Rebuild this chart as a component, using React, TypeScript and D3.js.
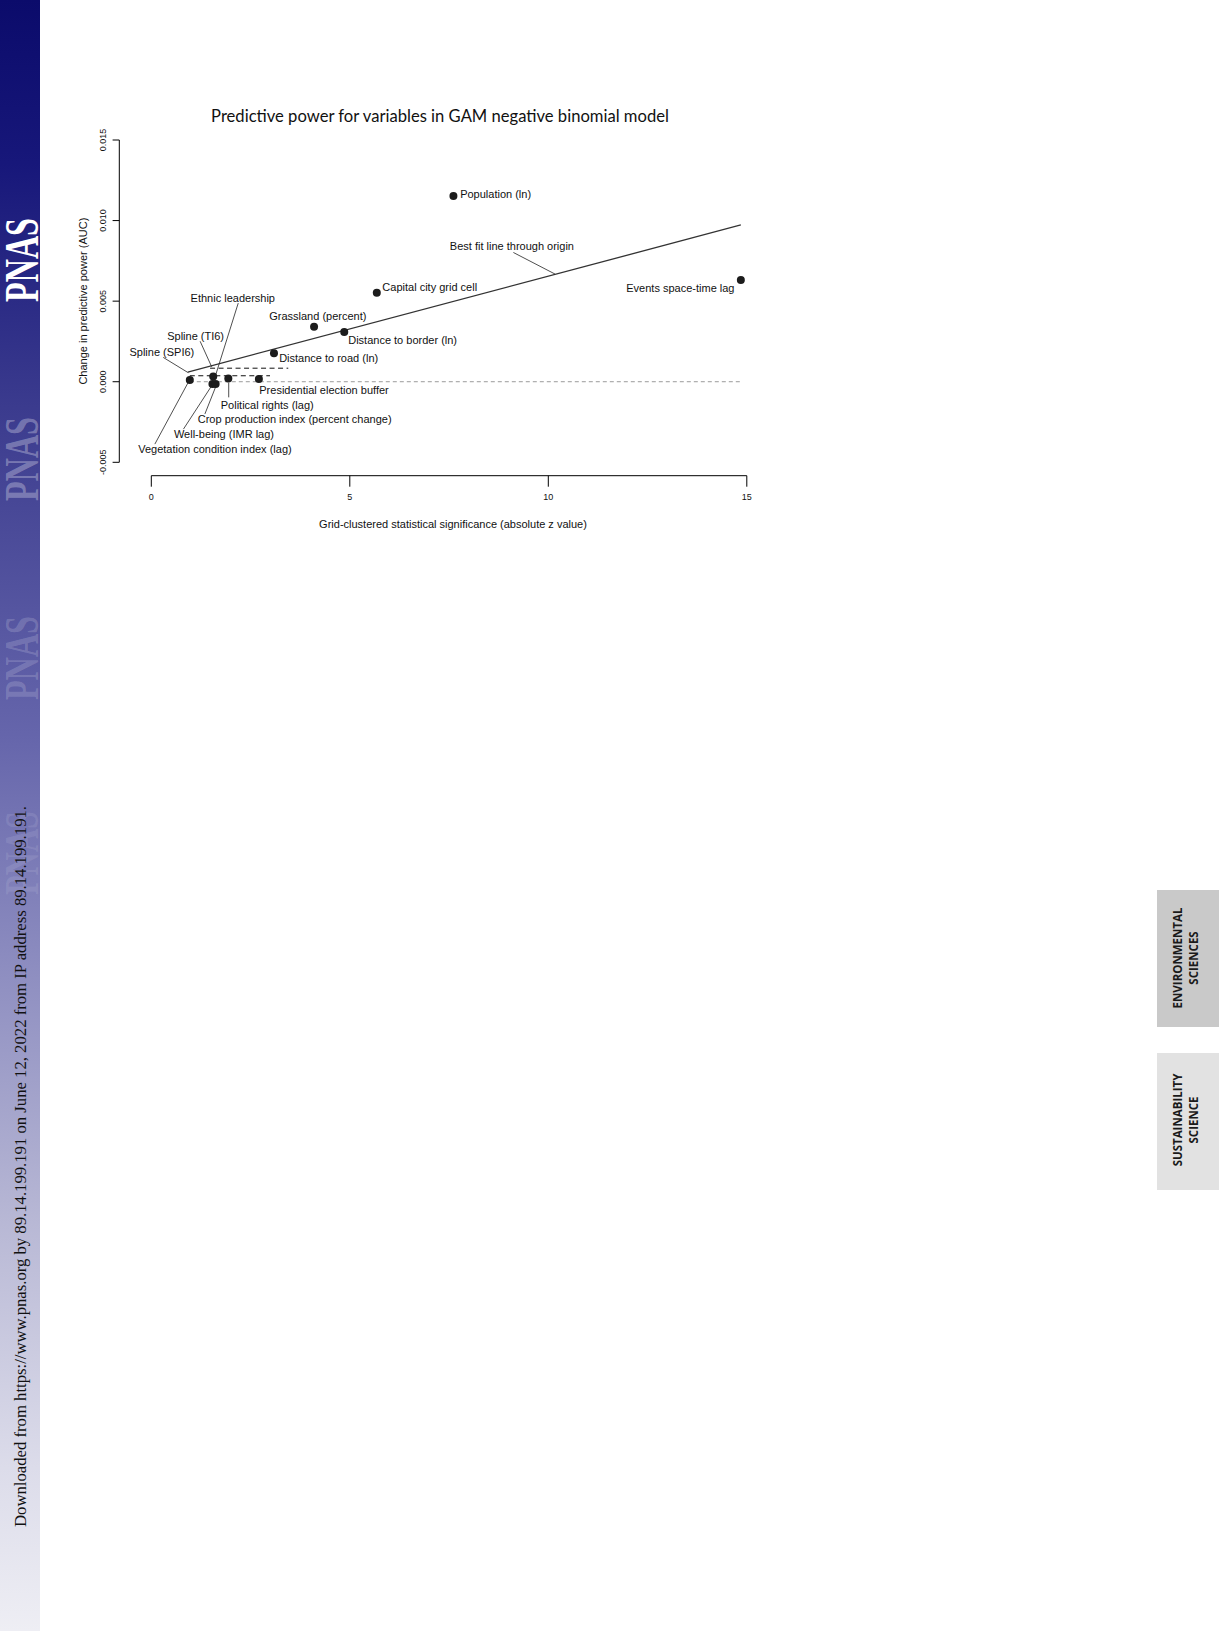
import { scaleLinear } from "d3";

// Points: grid-clustered |z| vs change in AUC
const pointNames = [
  "Population (ln)",
  "Capital city grid cell",
  "Grassland (percent)",
  "Distance to border (ln)",
  "Distance to road (ln)",
  "Events space-time lag",
  "Vegetation condition index (lag)",
  "Ethnic leadership",
  "Well-being (IMR lag)",
  "Crop production index (percent change)",
  "Political rights (lag)",
  "Presidential election buffer",
];
const pointZ = [7.61, 5.68, 4.1, 4.86, 3.09, 14.85, 0.97, 1.56, 1.54, 1.62, 1.94, 2.71];
const pointAuc = [0.01152, 0.00552, 0.00341, 0.00308, 0.00176, 0.00631, 0.00011, 0.00033, -0.00014, -0.00014, 0.0002, 0.00017];

// Spline terms shown as dashed intervals
const splineFromZ = [0.97, 1.48];
const splineToZ = [2.99, 3.45];
const splineAuc = [0.00037, 0.00084];

// Best fit line through origin
const bestFitSlope = 0.000655;
const bestFitZ = [0.92, 14.85];

// Annotations (data units, like R's text())
const labelTexts = [
  "Population (ln)",
  "Capital city grid cell",
  "Grassland (percent)",
  "Distance to border (ln)",
  "Distance to road (ln)",
  "Presidential election buffer",
  "Events space-time lag",
  "Best fit line through origin",
  "Ethnic leadership",
  "Spline (TI6)",
  "Spline (SPI6)",
  "Political rights (lag)",
  "Crop production index (percent change)",
  "Well-being (IMR lag)",
  "Vegetation condition index (lag)",
];
const labelZ = [7.78, 5.82, 2.97, 4.96, 3.22, 2.72, 14.69, 7.52, 0.99, 0.4, -0.55, 1.75, 1.17, 0.57, -0.33];
const labelAuc = [0.01165, 0.00585, 0.0041, 0.00259, 0.00145, -0.00052, 0.00582, 0.00844, 0.00517, 0.00285, 0.00182, -0.00143, -0.00232, -0.00325, -0.00418];
const labelEnd = ["Events space-time lag"];

// leader segments [z1, auc1, z2, auc2]
const leaders = [
  [9.12, 0.00802, 10.17, 0.00668],
  [2.19, 0.00488, 1.6, 0.00025],
  [1.23, 0.00251, 1.52, 0.00093],
  [0.3, 0.00151, 0.93, 0.00056],
  [1.95, -0.00006, 1.95, -0.00097],
  [1.35, -0.002, 1.65, -0.00014],
  [0.81, -0.00294, 1.55, -0.00014],
  [0.09, -0.00387, 0.93, -0.00004],
];

const xTicks = [0, 5, 10, 15];
const yTicks = [-0.005, 0, 0.005, 0.01, 0.015];

const W = 1219;
const H = 1631;
const sans = "'Liberation Sans', Arial, sans-serif";
const serif = "'Liberation Serif', 'Times New Roman', serif";

export default function App() {
  const x = scaleLinear().domain([0, 15]).range([151.3, 746.8]);
  const y = scaleLinear().domain([-0.005, 0.015]).range([462.3, 140]);
  const yAxisX = 119.3;
  const xAxisY = 475.7;

  const pnasY = [260, 459, 658, 853];
  const pnasOpacity = [1, 0.3, 0.18, 0.1];

  return (
    <div style={{ position: "absolute", left: 0, top: 0 }}>
      <svg width={W} height={H} viewBox={`0 0 ${W} ${H}`} style={{ display: "block", background: "#fff" }}>
        <defs>
          <linearGradient id="band" x1="0" y1="0" x2="0" y2="1">
            <stop offset="0" stopColor="#0b0b6b" />
            <stop offset="0.1" stopColor="#17177a" />
            <stop offset="0.25" stopColor="#3b3b8e" />
            <stop offset="0.45" stopColor="#6565ab" />
            <stop offset="0.6" stopColor="#8f8fc1" />
            <stop offset="0.75" stopColor="#b8b8d5" />
            <stop offset="0.9" stopColor="#dcdcea" />
            <stop offset="1" stopColor="#eeeef4" />
          </linearGradient>
        </defs>

        {/* left journal band */}
        <rect x={0} y={0} width={40} height={H} fill="url(#band)" />
        {pnasY.map((cy, i) => (
          <text
            key={`pnas-${i}`}
            transform={`translate(37.5, ${cy}) rotate(-90) scale(0.67, 1)`}
            textAnchor="middle"
            fontFamily={serif}
            fontWeight={700}
            fontSize={48}
            fill="#fff"
            fillOpacity={pnasOpacity[i]}
          >
            PNAS
          </text>
        ))}
        <text
          transform={`translate(26, 1527) rotate(-90)`}
          textAnchor="start"
          fontFamily={serif}
          fontSize={16}
          fill="#111"
          textLength={721}
          lengthAdjust="spacingAndGlyphs"
        >
          Downloaded from https://www.pnas.org by 89.14.199.191 on June 12, 2022 from IP address 89.14.199.191.
        </text>

        {/* right section tabs */}
        <rect x={1157} y={890} width={62} height={137} fill="#c9c9c9" />
        <g fontFamily="'Open Sans', sans-serif" fontWeight={700} fontSize={11.5} fill="#1a1a1a" textAnchor="middle">
          <text transform="translate(1182, 958) rotate(-90)">ENVIRONMENTAL</text>
          <text transform="translate(1198, 958) rotate(-90)">SCIENCES</text>
        </g>
        <rect x={1157} y={1053} width={62} height={137} fill="#e2e2e2" />
        <g fontFamily="'Open Sans', sans-serif" fontWeight={700} fontSize={11.5} fill="#1a1a1a" textAnchor="middle">
          <text transform="translate(1182, 1120) rotate(-90)">SUSTAINABILITY</text>
          <text transform="translate(1198, 1120) rotate(-90)">SCIENCE</text>
        </g>

        {/* title */}
        <text x={440} y={122} textAnchor="middle" fontFamily="Lato, 'Open Sans', sans-serif" fontSize={16.6} fill="#111">
          Predictive power for variables in GAM negative binomial model
        </text>

        {/* y axis */}
        <line x1={yAxisX} x2={yAxisX} y1={y(0.015)} y2={y(-0.005)} stroke="#000" strokeWidth={1} />
        {yTicks.map((t) => (
          <g key={`yt-${t}`}>
            <line x1={yAxisX - 6.7} x2={yAxisX} y1={y(t)} y2={y(t)} stroke="#000" strokeWidth={1} />
            <text
              transform={`translate(103.3, ${y(t)}) rotate(-90)`}
              textAnchor="middle"
              dy="0.35em"
              fontFamily={sans}
              fontSize={9}
              fill="#111"
            >
              {t.toFixed(3)}
            </text>
          </g>
        ))}
        <text
          transform={`translate(83, ${(y(0.015) + y(-0.005)) / 2}) rotate(-90)`}
          textAnchor="middle"
          dy="0.35em"
          fontFamily={sans}
          fontSize={11}
          fill="#111"
        >
          Change in predictive power (AUC)
        </text>

        {/* x axis */}
        <line x1={x(0)} x2={x(15)} y1={xAxisY} y2={xAxisY} stroke="#000" strokeWidth={1} />
        {xTicks.map((t) => (
          <g key={`xt-${t}`}>
            <line x1={x(t)} x2={x(t)} y1={xAxisY} y2={xAxisY + 11} stroke="#000" strokeWidth={1} />
            <text x={x(t)} y={496.7} dy="0.35em" textAnchor="middle" fontFamily={sans} fontSize={9} fill="#111">
              {t}
            </text>
          </g>
        ))}
        <text x={453} y={524} dy="0.35em" textAnchor="middle" fontFamily={sans} fontSize={11} fill="#111">
          Grid-clustered statistical significance (absolute z value)
        </text>

        {/* zero reference */}
        <line
          x1={x(bestFitZ[0] + 0.05)}
          x2={x(bestFitZ[1])}
          y1={y(0)}
          y2={y(0)}
          stroke="#9a9a9a"
          strokeWidth={1}
          strokeDasharray="4,3"
        />

        {/* spline intervals */}
        {splineAuc.map((a, i) => (
          <line
            key={`sp-${i}`}
            x1={x(splineFromZ[i])}
            x2={x(splineToZ[i])}
            y1={y(a)}
            y2={y(a)}
            stroke="#111"
            strokeWidth={1}
            strokeDasharray="5,3.5"
          />
        ))}

        {/* best fit line */}
        <line
          x1={x(bestFitZ[0])}
          x2={x(bestFitZ[1])}
          y1={y(bestFitSlope * bestFitZ[0])}
          y2={y(bestFitSlope * bestFitZ[1])}
          stroke="#333"
          strokeWidth={1.3}
        />

        {/* leader lines */}
        {leaders.map((l, i) => (
          <line key={`ld-${i}`} x1={x(l[0])} y1={y(l[1])} x2={x(l[2])} y2={y(l[3])} stroke="#222" strokeWidth={0.8} />
        ))}

        {/* points */}
        {pointNames.map((n, i) => (
          <circle key={n} cx={x(pointZ[i])} cy={y(pointAuc[i])} r={4} fill="#1c1c1c" />
        ))}

        {/* labels */}
        {labelTexts.map((t, i) => (
          <text
            key={`lb-${t}`}
            x={x(labelZ[i])}
            y={y(labelAuc[i])}
            dy="0.35em"
            textAnchor={labelEnd.includes(t) ? "end" : "start"}
            fontFamily={sans}
            fontSize={11}
            fill="#111"
          >
            {t}
          </text>
        ))}
      </svg>
    </div>
  );
}
